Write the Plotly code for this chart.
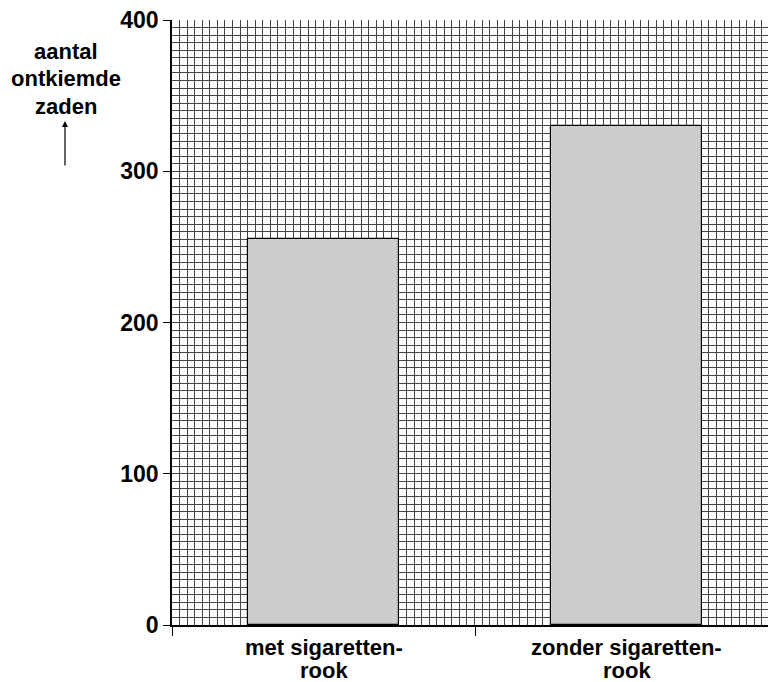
import plotly.graph_objects as go

categories = ["met sigaretten-<br>rook", "zonder sigaretten-<br>rook"]
values = [255, 330]
y_tick_vals = [0, 100, 200, 300, 400]
y_tick_text = ["0", "100", "200", "300", "400"]
y_title_lines = ["aantal", "ontkiemde", "zaden"]

FONT = "Liberation Sans, Arial, sans-serif"
W, H = 768, 682
ML, MR, MT, MB = 172, 0, 20, 57
plot_w = W - ML - MR
plot_h = H - MT - MB
cell = plot_h / 80.0  # grid cell of 5 units


def py(px):
    return 1 - (px - MT) / plot_h


fig = go.Figure()

fig.add_trace(go.Scatter(x=[0], y=[0], mode="markers", marker=dict(opacity=0),
                         xaxis="x", yaxis="y", showlegend=False, hoverinfo="skip"))

fig.add_trace(go.Bar(x=categories, y=values, width=0.5, xaxis="x2", yaxis="y",
                     marker=dict(color="#cccccc", line=dict(color="black", width=1.2)),
                     showlegend=False))

cat_span = plot_w / 303.0

fig.update_layout(
    width=W, height=H,
    margin=dict(l=ML, r=MR, t=MT, b=MB, autoexpand=False),
    paper_bgcolor="white", plot_bgcolor="white",
    font=dict(family=FONT, color="black", size=19),
    xaxis=dict(range=[0, plot_w / cell], dtick=1, showgrid=True, gridcolor="#444",
               gridwidth=1, showticklabels=False, ticks="", zeroline=False,
               showline=False, fixedrange=True),
    xaxis2=dict(type="category", overlaying="x", side="bottom", range=[-0.5, -0.5 + cat_span],
                showgrid=False, ticks="outside", tickson="boundaries", ticklen=9,
                tickcolor="black", tickwidth=1.2, showline=True, linecolor="black",
                linewidth=1.5, showticklabels=False),
    yaxis=dict(range=[0, 400], tickvals=y_tick_vals, ticktext=y_tick_text,
               showgrid=True, gridcolor="#444", gridwidth=1,
               minor=dict(dtick=5, showgrid=True, gridcolor="#444", gridwidth=1, ticks=""),
               ticks="outside", ticklen=7, tickcolor="black", tickwidth=1.2,
               showline=True, linecolor="black", linewidth=1.5, zeroline=False,
               tickfont=dict(size=23, family=FONT, color="black", weight="bold")),
    bargap=0,
)

# category labels, one annotation per line
for i, cat in enumerate(categories):
    for j, line in enumerate(cat.split("<br>")):
        fig.add_annotation(text=line, xref="x2", yref="paper", x=i, y=py(647 + 23 * j),
                           xanchor="center", yanchor="middle", showarrow=False,
                           font=dict(size=22, family=FONT, color="black", weight="bold"))

# y title
for j, line in enumerate(y_title_lines):
    fig.add_annotation(text=line, xref="paper", yref="paper",
                       x=(66 - ML) / plot_w, y=py(52 + 27 * j),
                       xanchor="center", yanchor="middle", showarrow=False,
                       font=dict(size=22, family=FONT, color="black", weight="bold"))
fig.add_annotation(text="", xref="paper", yref="paper",
                   x=(65 - ML) / plot_w, y=py(121),
                   ax=0, ay=46, axref="pixel", ayref="pixel",
                   showarrow=True, arrowhead=2, arrowsize=1, arrowwidth=1.2,
                   arrowcolor="black")

fig.write_html("out.html", config={"displayModeBar": False})

with open("out.html", "r", encoding="utf-8") as f:
    html = f.read()
html = html.replace("<body>", '<body style="margin:0;padding:0;">', 1)
with open("out.html", "w", encoding="utf-8") as f:
    f.write(html)
